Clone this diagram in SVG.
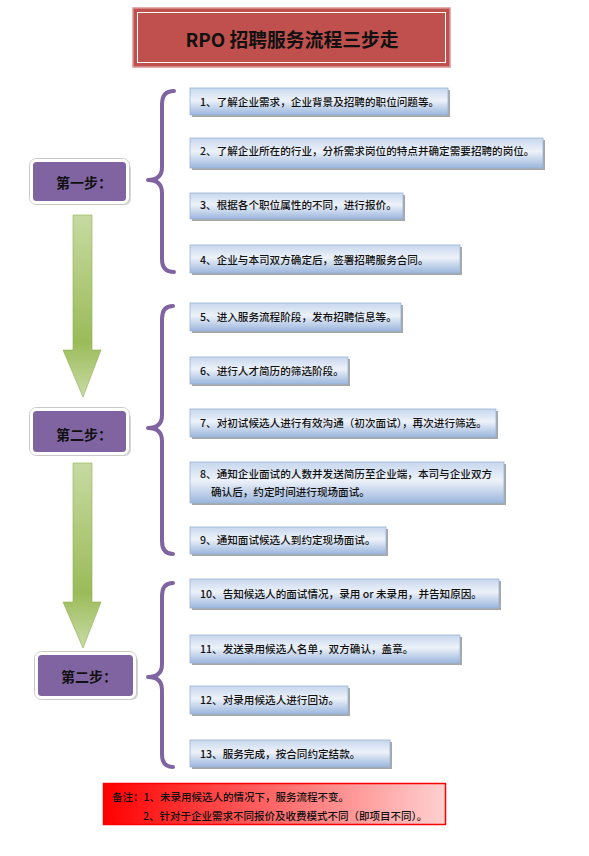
<svg xmlns="http://www.w3.org/2000/svg" width="589" height="856" viewBox="0 0 589 856">
<style>
text{font-family:"Noto Sans CJK SC","Noto Sans",sans-serif;fill:#111}
.it{font-size:10.6px;font-weight:500}
.stp{font-size:14px;font-weight:bold;text-anchor:middle}
.box{fill:url(#gItem);stroke:#9ab3d6;stroke-width:0.8}
.sh{fill:#8a8a8a;opacity:0.75}
.brace{fill:none;stroke:#8064a2;stroke-width:4;stroke-linecap:round;stroke-linejoin:round}
.step{fill:#8064a2;stroke:#fff;stroke-width:3}
.stepo{fill:none;stroke:#c8c8c8;stroke-width:1}
.arr{fill:url(#gArr);stroke:#8fae4f;stroke-width:0.6}
.note{font-size:10.5px;font-weight:500}
</style>
<defs>
<linearGradient id="gItem" x1="0" y1="0" x2="0" y2="1">
<stop offset="0" stop-color="#c7d7ee"/>
<stop offset="0.45" stop-color="#edf2f9"/>
<stop offset="1" stop-color="#9bb6dd"/>
</linearGradient>
<linearGradient id="gArr" x1="0" y1="0" x2="0" y2="1">
<stop offset="0" stop-color="#c6daa1"/>
<stop offset="0.7" stop-color="#9bbb59"/>
<stop offset="1" stop-color="#c9dca7"/>
</linearGradient>
<linearGradient id="gNote" x1="0" y1="0" x2="1" y2="0">
<stop offset="0" stop-color="#ff0000"/>
<stop offset="1" stop-color="#ffd0d0"/>
</linearGradient>
</defs>

<g id="title">
<rect x="133" y="8" width="317" height="59" fill="#c0504d" stroke="#d99694" stroke-width="1.5"/>
<rect x="137.5" y="12.5" width="308" height="50" fill="none" stroke="#fff" stroke-width="1"/>
<text x="292" y="47" font-size="18.8" font-weight="bold" text-anchor="middle">RPO 招聘服务流程三步走</text>
</g>

<g id="connectors">
<path class="arr" d="M73,215 H92 V350 H101 L83,397 L63,350 H73 Z"/>
<path class="arr" d="M73,463 H92 V602 H101 L83,648 L63,602 H73 Z"/>
<path class="brace" d="M174,91 Q162,91 162,104 L162,167 Q162,180 148,180 Q162,180 162,193 L162,259 Q162,272 174,272"/>
<path class="brace" d="M173,306 Q162,306 162,319 L162,415 Q162,428 148,428 Q162,428 162,441 L162,541 Q162,554 173,554"/>
<path class="brace" d="M173,583 Q162,583 162,596 L162,664 Q162,677 148,677 Q162,677 162,690 L162,754 Q162,767 173,767"/>
</g>

<g id="step1">
<rect x="33" y="163" width="98" height="42" rx="6" fill="#bdbdbd" opacity="0.6"/>
<rect class="stepo" x="29.5" y="158.5" width="100" height="46" rx="7"/>
<rect class="step" x="31.5" y="160.5" width="96" height="42" rx="5"/>
<text class="stp" x="84" y="188">第一步：</text>
</g>
<g id="step2">
<rect x="33" y="412" width="98" height="44" rx="6" fill="#bdbdbd" opacity="0.6"/>
<rect class="stepo" x="29.5" y="407.5" width="100" height="48" rx="7"/>
<rect class="step" x="31.5" y="409.5" width="96" height="44" rx="5"/>
<text class="stp" x="84" y="440">第二步：</text>
</g>
<g id="step3">
<rect x="38" y="655" width="100" height="45" rx="6" fill="#bdbdbd" opacity="0.6"/>
<rect class="stepo" x="34.5" y="651.5" width="102" height="48" rx="7"/>
<rect class="step" x="36.5" y="653.5" width="98" height="44" rx="5"/>
<text class="stp" x="89" y="682">第二步：</text>
</g>

<g id="item1"><rect class="sh" x="192" y="90" width="258" height="27"/><rect class="box" x="190" y="88" width="258" height="27"/><text class="it" x="200" y="106">1、了解企业需求，企业背景及招聘的职位问题等。</text></g>
<g id="item2"><rect class="sh" x="192" y="140" width="353" height="30"/><rect class="box" x="190" y="138" width="353" height="30"/><text class="it" x="200" y="155">2、了解企业所在的行业，分析需求岗位的特点并确定需要招聘的岗位。</text></g>
<g id="item3"><rect class="sh" x="192" y="195" width="213" height="26"/><rect class="box" x="190" y="193" width="213" height="26"/><text class="it" x="200" y="209">3、根据各个职位属性的不同，进行报价。</text></g>
<g id="item4"><rect class="sh" x="192" y="247" width="270" height="28"/><rect class="box" x="190" y="245" width="270" height="28"/><text class="it" x="200" y="264">4、企业与本司双方确定后，签署招聘服务合同。</text></g>

<g id="item5"><rect class="sh" x="192" y="305" width="211" height="28"/><rect class="box" x="190" y="303" width="211" height="28"/><text class="it" x="200" y="321">5、进入服务流程阶段，发布招聘信息等。</text></g>
<g id="item6"><rect class="sh" x="192" y="359" width="158" height="27"/><rect class="box" x="190" y="357" width="158" height="27"/><text class="it" x="200" y="375">6、进行人才简历的筛选阶段。</text></g>
<g id="item7"><rect class="sh" x="192" y="411" width="306" height="28"/><rect class="box" x="190" y="409" width="306" height="28"/><text class="it" x="200" y="427">7、对初试候选人进行有效沟通（初次面试），再次进行筛选。</text></g>
<g id="item8"><rect class="sh" x="192" y="464" width="314" height="41"/><rect class="box" x="190" y="462" width="314" height="41"/><text class="it" x="200" y="478">8、通知企业面试的人数并发送简历至企业端，本司与企业双方</text><text class="it" x="211" y="496">确认后，约定时间进行现场面试。</text></g>
<g id="item9"><rect class="sh" x="192" y="529" width="196" height="27"/><rect class="box" x="190" y="527" width="196" height="27"/><text class="it" x="200" y="544">9、通知面试候选人到约定现场面试。</text></g>

<g id="item10"><rect class="sh" x="192" y="581" width="309" height="29"/><rect class="box" x="190" y="579" width="309" height="29"/><text class="it" x="200" y="598">10、告知候选人的面试情况，录用 or 未录用，并告知原因。</text></g>
<g id="item11"><rect class="sh" x="192" y="637" width="270" height="28"/><rect class="box" x="190" y="635" width="270" height="28"/><text class="it" x="200" y="653">11、发送录用候选人名单，双方确认，盖章。</text></g>
<g id="item12"><rect class="sh" x="192" y="688" width="158" height="28"/><rect class="box" x="190" y="686" width="158" height="28"/><text class="it" x="200" y="704">12、对录用候选人进行回访。</text></g>
<g id="item13"><rect class="sh" x="192" y="742" width="200" height="27"/><rect class="box" x="190" y="740" width="200" height="27"/><text class="it" x="200" y="758">13、服务完成，按合同约定结款。</text></g>

<g id="note">
<rect x="103.5" y="783.5" width="342" height="41" fill="url(#gNote)" stroke="#ff0000" stroke-width="1.5"/>
<text class="note" x="112" y="801">备注：1、未录用候选人的情况下，服务流程不变。</text>
<text class="note" x="143" y="820">2、针对于企业需求不同报价及收费模式不同（即项目不同）。</text>
</g>
</svg>
